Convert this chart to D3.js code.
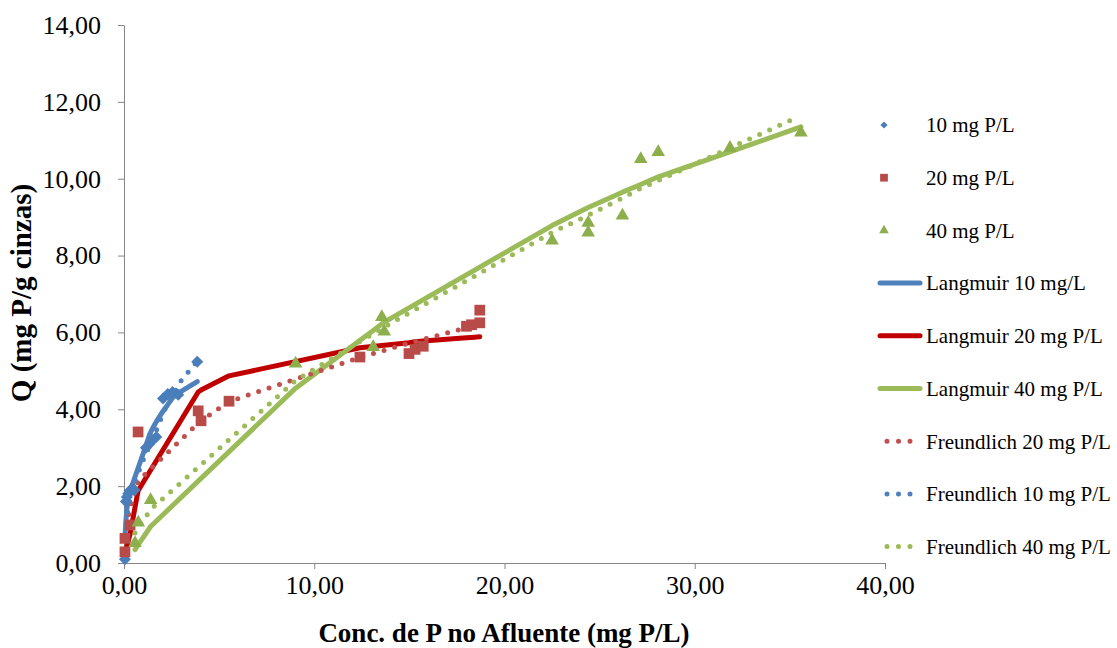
<!DOCTYPE html>
<html>
<head>
<meta charset="utf-8">
<script src="https://cdn.jsdelivr.net/npm/d3@7"></script>
<style>
  body { margin: 0; background: #fff; }
  text { font-family: "Liberation Serif", "Times New Roman", serif; fill: #000; }
</style>
</head>
<body>
<script>
// data: [C, Q]
var pts10 = [[0.05,0.10],[0.10,1.60],[0.15,1.72],[0.22,1.80],[0.30,1.88],[0.45,1.95],[0.55,1.90],
  [1.15,3.00],[1.35,3.10],[1.50,3.20],[1.70,3.28],[2.05,4.28],[2.30,4.40],[2.55,4.45],[2.85,4.38],[3.85,5.24]];
var pts20 = [[0.05,0.29],[0.05,0.64],[0.32,0.99],[0.74,3.41],[3.90,3.96],[4.05,3.70],[5.52,4.21],
  [12.4,5.36],[14.98,5.45],[15.3,5.56],[15.73,5.64],[18.0,6.16],[18.27,6.20],[18.7,6.25],[18.7,6.58]];
var pts40 = [[0.58,0.52],[0.75,1.05],[1.40,1.64],[9.02,5.19],[13.1,5.62],[13.55,6.40],[13.68,6.02],
  [22.5,8.39],[24.4,8.60],[24.4,8.85],[26.2,9.04],[27.16,10.51],[28.08,10.69],[31.85,10.80],[35.58,11.20]];

var lang10 = [[0.05,0.65],[0.10,1.10],[0.15,1.40],[0.22,1.65],[0.30,1.85],[0.45,2.05],[0.55,2.20],
  [1.15,3.05],[1.35,3.35],[1.50,3.50],[1.70,3.68],[2.05,3.95],[2.30,4.12],[2.55,4.30],[2.85,4.42],[3.85,4.72]];
var lang20 = [[0.05,0.25],[0.32,0.75],[0.74,1.88],[3.90,4.45],[4.05,4.50],[5.52,4.87],[12.4,5.60],
  [14.98,5.73],[15.3,5.76],[15.73,5.78],[18.0,5.86],[18.27,5.87],[18.7,5.89]];
var lang40 = [[0.58,0.35],[0.75,0.48],[1.40,0.95],[9.02,4.55],[13.1,6.05],[13.55,6.22],[13.68,6.27],
  [22.5,8.78],[24.4,9.25],[26.2,9.65],[27.16,9.85],[28.08,10.05],[31.85,10.70],[35.58,11.35]];

var freu20 = [[0.05,0.70],[0.32,1.45],[0.74,2.13],[3.90,3.64],[4.05,3.70],[5.52,4.20],[12.4,5.35],
  [14.98,5.72],[15.3,5.76],[15.73,5.82],[18.0,6.12],[18.27,6.15],[18.7,6.20]];
var freu10 = [[0.05,0.75],[0.10,1.00],[0.15,1.20],[0.22,1.40],[0.30,1.60],[0.45,1.90],[0.55,2.10],
  [1.15,2.85],[1.35,3.05],[1.50,3.20],[1.70,3.45],[2.05,3.90],[2.30,4.15],[2.55,4.30],[2.85,4.65],[3.85,5.25]];
var freu40 = [[0.58,0.78],[0.75,0.92],[1.40,1.39],[9.02,4.75],[13.1,5.97],[13.55,6.10],[13.68,6.14],
  [22.5,8.60],[24.4,9.05],[26.2,9.50],[27.16,9.75],[28.08,9.95],[31.85,10.80],[35.4,11.60]];

var xTicks = [0, 10, 20, 30, 40];
var yTicks = [0, 2, 4, 6, 8, 10, 12, 14];
var legendLabels = ["10 mg P/L", "20 mg P/L", "40 mg P/L", "Langmuir 10 mg/L", "Langmuir 20 mg P/L",
  "Langmuir 40 mg P/L", "Freundlich 20 mg P/L", "Freundlich 10 mg P/L", "Freundlich 40 mg P/L"];

var width = 1117, height = 648;
var blue = "#4F81BD", red = "#C0504D", green = "#9BBB59";

var svg = d3.select("body").append("svg")
    .attr("width", width)
    .attr("height", height);

var x = d3.scaleLinear().domain([0, 40]).range([124, 885]);
var y = d3.scaleLinear().domain([0, 14]).range([563, 25]);
var fmt = function(d) { return d.toFixed(2).replace(".", ","); };

// square diamond like excel's marker
var diamond = {
  draw: function(ctx, size) {
    var r = Math.sqrt(size / 2);
    ctx.moveTo(0, -r); ctx.lineTo(r, 0); ctx.lineTo(0, r); ctx.lineTo(-r, 0); ctx.closePath();
  }
};

// axes
var gx = svg.append("g")
    .attr("transform", "translate(0,563)")
    .call(d3.axisBottom(x).tickValues(xTicks).tickSize(6).tickSizeOuter(0).tickPadding(7).tickFormat(fmt));
var gy = svg.append("g")
    .attr("transform", "translate(124,0)")
    .call(d3.axisLeft(y).tickValues(yTicks).tickSize(6).tickSizeOuter(0).tickPadding(17).tickFormat(fmt));
[gx, gy].forEach(function(g) {
  g.selectAll("path, line").attr("stroke", "#868686");
  g.selectAll("text").style("font-size", "26px").style("font-family", "'Liberation Serif', serif");
});

svg.append("text")
    .attr("x", 504).attr("y", 642)
    .attr("text-anchor", "middle")
    .style("font-size", "27px").style("font-weight", "bold")
    .text("Conc. de P no Afluente (mg P/L)");
svg.append("text")
    .attr("transform", "translate(31,293) rotate(-90)")
    .attr("text-anchor", "middle")
    .style("font-size", "29px").style("font-weight", "bold")
    .text("Q (mg P/g cinzas)");

var line = d3.line()
    .x(function(d) { return x(d[0]); })
    .y(function(d) { return y(d[1]); });

// model curves
var solid = [[lang10, blue], [lang20, "#C00000"], [lang40, green]];
solid.forEach(function(s) {
  svg.append("path").datum(s[0])
      .attr("d", line)
      .attr("fill", "none")
      .attr("stroke", s[1])
      .attr("stroke-width", 5)
      .attr("stroke-linejoin", "round")
      .attr("stroke-linecap", "round");
});
var dotted = [[freu20, red], [freu10, blue], [freu40, green]];
dotted.forEach(function(s) {
  svg.append("path").datum(s[0])
      .attr("d", line)
      .attr("fill", "none")
      .attr("stroke", s[1])
      .attr("stroke-width", 5)
      .attr("stroke-dasharray", "0,11")
      .attr("stroke-linecap", "round");
});

// markers
var sym = [[pts10, diamond, 72, "#4A7EBB", 26], [pts20, d3.symbolSquare, 115, "#B84A48", 60], [pts40, d3.symbolTriangle, 80, "#8CAF4C", 40]];
sym.forEach(function(s) {
  svg.append("g").selectAll("path")
      .data(s[0])
      .enter()
      .append("path")
      .attr("transform", function(d) { return "translate(" + x(d[0]) + "," + y(d[1]) + ")"; })
      .attr("d", d3.symbol().type(s[1]).size(s[2]))
      .attr("fill", s[3]);
});

// legend
var legend = svg.append("g");
var ly = function(i) { return 125 + i * 52.7; };
legendLabels.forEach(function(t, i) {
  var g = legend.append("g").attr("transform", "translate(0," + ly(i) + ")");
  if (i < 3) {
    g.append("path")
        .attr("transform", "translate(884,0)")
        .attr("d", d3.symbol().type(sym[i][1]).size(sym[i][4]))
        .attr("fill", sym[i][3]);
  } else if (i < 6) {
    g.append("line").attr("x1", 880).attr("x2", 920)
        .attr("stroke", solid[i - 3][1]).attr("stroke-width", 5).attr("stroke-linecap", "round");
  } else {
    g.append("line").attr("x1", 887).attr("x2", 912)
        .attr("stroke", dotted[i - 6][1]).attr("stroke-width", 5)
        .attr("stroke-dasharray", "0,11.5").attr("stroke-linecap", "round");
  }
  g.append("text")
      .attr("x", 926).attr("dy", "0.35em")
      .style("font-size", "21px")
      .text(t);
});
</script>
</body>
</html>
